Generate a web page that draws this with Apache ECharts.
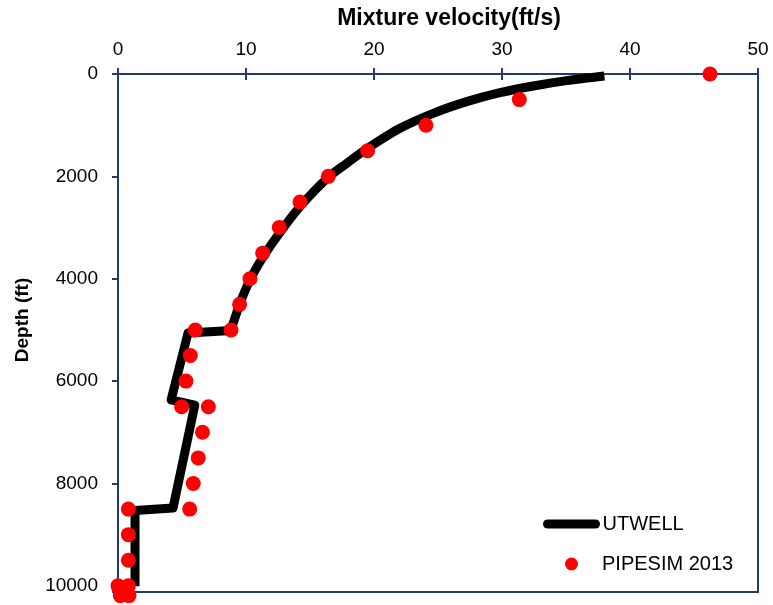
<!DOCTYPE html>
<html>
<head>
<meta charset="utf-8">
<script src="https://cdn.jsdelivr.net/npm/echarts@6/dist/echarts.min.js"></script>
<style>
html,body{margin:0;padding:0;background:#fff;}
#chart{width:773px;height:605px;}
</style>
</head>
<body>
<div id="chart"></div>
<script>
// UTWELL model curve, upper smooth part: velocity (ft/s), depth (ft)
const utwellUpperVelocity = [38.0, 35.05, 32.45, 29.84, 27.24, 24.63, 22.03, 19.5, 17.87, 16.43, 14.22, 12.6, 11.35, 10.31, 9.53, 9.0, 8.83];
const utwellUpperDepth    = [40, 130, 234, 365, 540, 768, 1061, 1452, 1745, 2018, 2591, 3112, 3568, 4023, 4479, 4870, 5013];
// UTWELL model curve, lower stepped part
const utwellLowerVelocity = [8.83, 5.47, 4.15, 6.0, 4.3, 4.15, 1.33, 1.33, 1.33];
const utwellLowerDepth    = [5013, 5060, 6367, 6470, 8480, 8455, 8530, 9500, 10010];

// PIPESIM 2013 points
const pipesimVelocity = [46.25, 31.35, 24.06, 19.5, 16.43, 14.22, 12.6, 11.3, 10.31, 9.5, 8.83, 6.04, 5.65, 5.31, 4.97, 7.06, 6.6, 6.27, 5.88, 5.6, 0.81, 0.81, 0.81, 0.81, 0.0, 0.18, 0.86];
const pipesimDepth    = [0, 500, 1000, 1500, 2000, 2500, 3000, 3500, 4000, 4500, 5000, 5000, 5500, 6000, 6500, 6500, 7000, 7500, 8000, 8500, 8500, 9000, 9500, 10000, 10000, 10190, 10190];

const xTicks = [0, 10, 20, 30, 40, 50];
const yTicks = [0, 2000, 4000, 6000, 8000, 10000];

const seriesNames = ['UTWELL', 'PIPESIM 2013'];
const xTitle = 'Mixture velocity(ft/s)';
const yTitle = 'Depth (ft)';

const navy = '#1F3B6F';
const pairs = (xs, ys) => xs.map((v, i) => [v, ys[i]]);

const chart = echarts.init(document.getElementById('chart'), null, {renderer: 'canvas'});

const baseX = {
  type: 'value', position: 'top', min: xTicks[0], max: xTicks[xTicks.length - 1], interval: 10,
  splitLine: {show: false}
};
const baseY = {
  type: 'value', inverse: true, min: 0, max: 10120, interval: 2000,
  splitLine: {show: false}
};
const utwellLine = {color: '#000', width: 9, join: 'round', cap: 'butt'};

chart.setOption({
  animation: false,
  backgroundColor: '#fff',
  grid: {left: 118, top: 74, right: 15, bottom: 13, show: true, borderColor: navy, borderWidth: 2,
    backgroundColor: 'transparent', containLabel: false, outerBoundsMode: 'none'},
  xAxis: [
    Object.assign({}, baseX, {
      name: xTitle, nameLocation: 'middle', nameGap: 44,
      nameTextStyle: {fontFamily: 'Liberation Sans', fontWeight: 'bold', fontSize: 23, color: '#000', padding: [0, 0, 0, 22]},
      axisLine: {show: true, lineStyle: {color: navy, width: 2}},
      axisTick: {show: true, inside: false, length: 6, lineStyle: {color: navy, width: 2}},
      axisLabel: {show: true, margin: 15, fontFamily: 'Liberation Sans', fontSize: 19, color: '#000',
        formatter: v => xTicks.indexOf(v) >= 0 ? String(v) : ''}
    }),
    Object.assign({}, baseX, {
      axisLine: {show: false},
      axisTick: {show: true, inside: true, length: 6, lineStyle: {color: navy, width: 2}},
      axisLabel: {show: false}
    })
  ],
  yAxis: [
    Object.assign({}, baseY, {
      name: yTitle, nameLocation: 'middle', nameGap: 86, nameRotate: 90,
      nameTextStyle: {fontFamily: 'Liberation Sans', fontWeight: 'bold', fontSize: 19, color: '#000', padding: [0, 0, 0, 26]},
      axisLine: {show: true, lineStyle: {color: navy, width: 2}},
      axisTick: {show: true, inside: false, length: 6, lineStyle: {color: navy, width: 2}},
      axisLabel: {show: true, margin: 20, showMaxLabel: false, fontFamily: 'Liberation Sans', fontSize: 19, color: '#000',
        formatter: v => yTicks.indexOf(v) >= 0 ? String(v) : ''}
    }),
    Object.assign({}, baseY, {
      axisLine: {show: false},
      axisTick: {show: true, inside: true, length: 6, lineStyle: {color: navy, width: 2}},
      axisLabel: {show: false}
    })
  ],
  legend: [
    {
      data: [{name: seriesNames[0], icon: 'path://M4.5,0L52.5,0A4.5,4.5,0,0,1,52.5,9L4.5,9A4.5,4.5,0,0,1,4.5,0Z'}],
      left: 538, top: 509, orient: 'vertical', itemWidth: 60, itemHeight: 9, itemGap: 0,
      textStyle: {fontFamily: 'Liberation Sans', fontSize: 20, color: '#000', padding: [0, 0, 0, -4]}
    },
    {
      data: [{name: seriesNames[1], icon: 'circle'}],
      left: 560, top: 549, orient: 'vertical', itemWidth: 57, itemHeight: 13, itemGap: 0,
      textStyle: {fontFamily: 'Liberation Sans', fontSize: 20, color: '#000', padding: [0, 0, 0, -3]}
    }
  ],
  series: [
    {
      name: seriesNames[0], type: 'line', xAxisIndex: 0, yAxisIndex: 0,
      data: pairs(utwellUpperVelocity, utwellUpperDepth), symbol: 'none', smooth: 0.3, clip: false,
      lineStyle: utwellLine, itemStyle: {color: '#000'}, z: 2
    },
    {
      name: seriesNames[0], type: 'line', xAxisIndex: 0, yAxisIndex: 0,
      data: pairs(utwellLowerVelocity, utwellLowerDepth), symbol: 'none', smooth: false, clip: false,
      lineStyle: utwellLine, itemStyle: {color: '#000'}, z: 2
    },
    {
      name: seriesNames[1], type: 'scatter', xAxisIndex: 0, yAxisIndex: 0,
      data: pairs(pipesimVelocity, pipesimDepth), symbol: 'circle', symbolSize: 15, clip: false,
      itemStyle: {color: '#FF0000', opacity: 1}, z: 3
    }
  ]
});
</script>
</body>
</html>
